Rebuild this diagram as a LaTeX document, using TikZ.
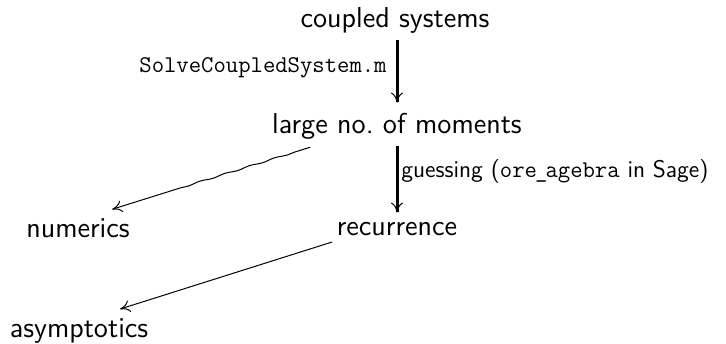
\documentclass[tikz,border=0pt]{standalone}
\usetikzlibrary{arrows.meta,decorations.pathmorphing,calc}
\begin{document}
\begin{tikzpicture}[x=0.5pt,y=-0.5pt,
  lbl/.style={inner sep=0pt,font=\sffamily\Large,text height=10pt,text depth=3pt},
  elbl/.style={inner sep=0pt,font=\sffamily\large},
  thin tip/.style={-{To[length=5pt,width=6pt,line width=0.5pt]}},
  thickarrow/.style={thin tip,line width=1.5pt},
  thinarrow/.style={thin tip,line width=0.5pt},
  wavy/.style={decoration={snake,segment length=13pt,amplitude=0.3pt,pre length=8pt,post length=32pt},decorate}]
\useasboundingbox (0,0) rectangle (726,343);
\node[lbl,anchor=base] (coupled) at (395,27) {coupled systems};
\node[lbl,anchor=base] (large) at (397,133) {large no.\ of moments};
\node[lbl,anchor=base] (rec) at (397,235) {recurrence};
\node[lbl,anchor=base] (num) at (78,237) {numerics};
\node[lbl,anchor=base] (asym) at (79,337) {asymptotics};
\node[elbl,anchor=base east] (l1) at (387,72) {\ttfamily SolveCoupledSystem.m};
\node[elbl,anchor=base west] (l2) at (401,177) {guessing (\texttt{ore\kern-0.08em\_\kern-0.08em agebra} in Sage)};
\draw[thickarrow,shorten <=3.5pt,shorten >=5pt] (coupled.south -| large.north) -- (large.north);
\draw[thickarrow,shorten <=3.5pt,shorten >=1pt] (large.south) -- (rec.north);
\coordinate (ls) at ([yshift=3pt]large.center);
\coordinate (ne) at ([yshift=5pt]num.center);
\coordinate (rs) at ([yshift=3.25pt]rec.center);
\coordinate (ae) at ([yshift=4pt]asym.center);
\draw[thinarrow,wavy] ($(ls)!45.5pt!(ne)$) -- ($(ne)!17.9pt!(ls)$);
\draw[thinarrow] ($(rs)!34pt!(ae)$) -- ($(ae)!21.5pt!(rs)$);
\end{tikzpicture}
\end{document}
